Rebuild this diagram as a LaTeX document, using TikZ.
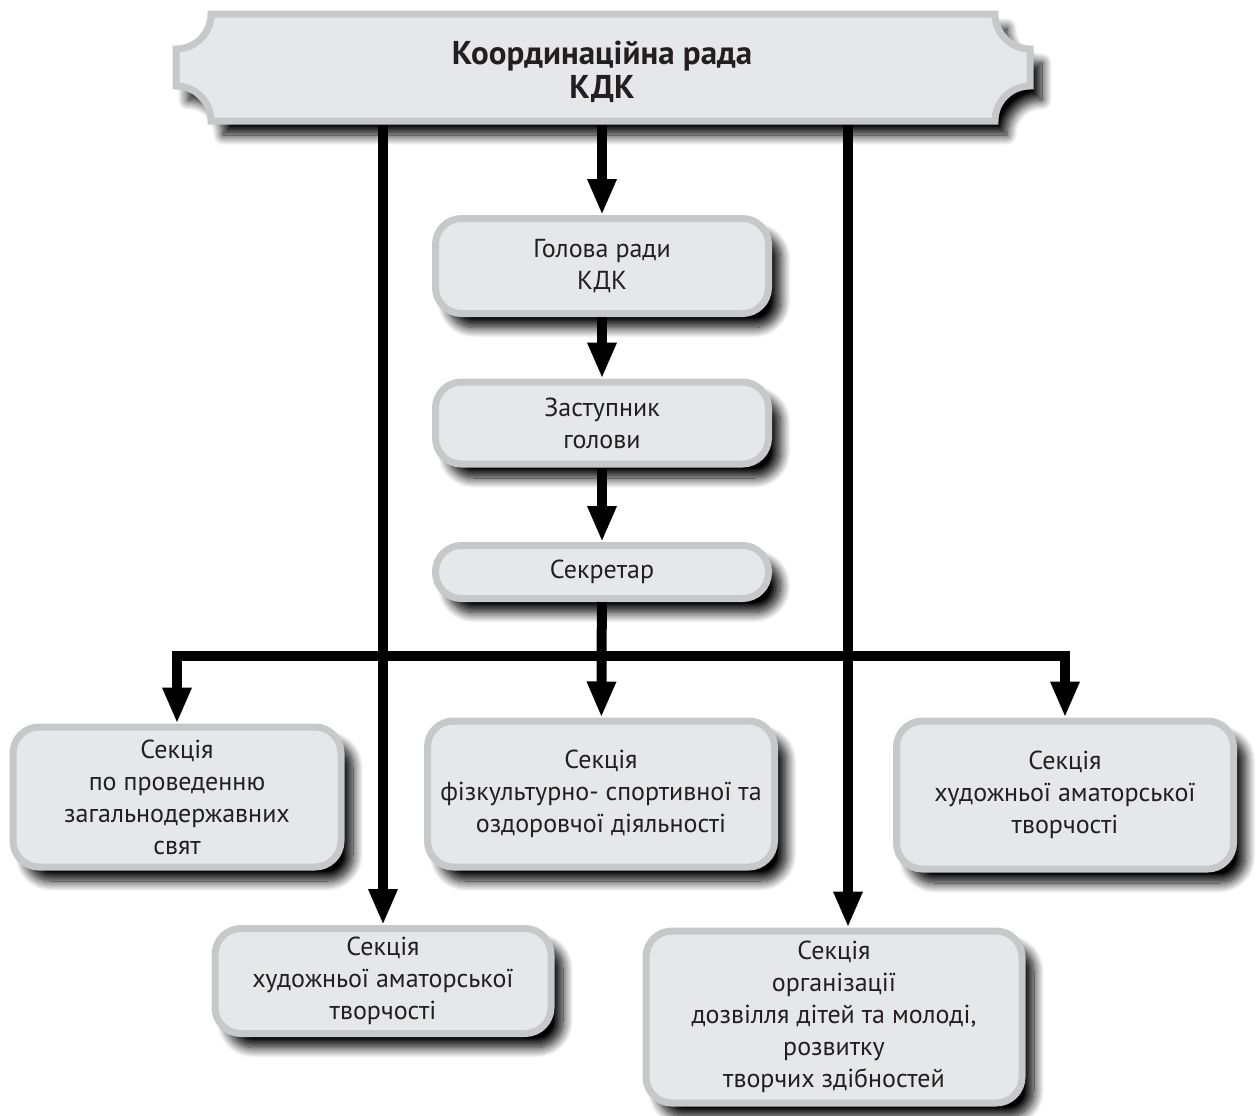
\documentclass[tikz,border=0pt]{standalone}
\usepackage{fontspec}
\setmainfont{PT Sans}
\usetikzlibrary{arrows.meta,shadows.blur}
\definecolor{boxfill}{HTML}{E6E7E8}
\definecolor{boxline}{HTML}{C7C8CA}
\definecolor{ink}{HTML}{231F20}
\tikzset{
  softshadow/.style={blur shadow={shadow xshift=6pt, shadow yshift=-7pt,
      shadow blur radius=5pt, shadow blur steps=14, shadow opacity=100}},
  unit/.style={draw=boxline, fill=boxfill, line width=3.5pt, rounded corners=13pt,
      align=center, text=ink, inner sep=0pt, font=\fontsize{13}{16}\selectfont, softshadow},
  board/.style={draw=boxline, fill=boxfill, line width=3.5pt, softshadow},
  flowtip/.tip={Triangle[width=13.5pt,length=18pt]},
  flow/.style={draw=black, line width=5pt, -flowtip},
}

\begin{document}
\begin{tikzpicture}[x=0.5pt, y=-0.5pt]
  \useasboundingbox (0,0) rectangle (1259,1115);

  % notched board on top
  \path[board] (211,14) -- (995,14) arc[start angle=180, end angle=270, radius=17.5pt]
     -- (1030,86) arc[start angle=90, end angle=180, radius=17.5pt]
     -- (211,121) arc[start angle=0, end angle=90, radius=17.5pt]
     -- (176,49) arc[start angle=270, end angle=360, radius=17.5pt] -- cycle;
  \node[font=\bfseries\fontsize{16.5}{17}\selectfont, text=ink, align=center] (title) at (602,72)
    {Координаційна рада\\КДК};
  \coordinate (boardL) at (383,125);
  \coordinate (boardC) at (602,125);
  \coordinate (boardR) at (848,125);

  % chain in the middle
  \node[unit, minimum width=166.5pt, minimum height=47.5pt] (head) at (602,266) {Голова ради\\КДК};
  \node[unit, minimum width=166.5pt, minimum height=41pt] (deputy) at (602,423) {Заступник\\голови};
  \node[unit, minimum width=166.5pt, minimum height=26.5pt] (secretary) at (602,572) {Секретар};

  % sections
  \node[unit, minimum width=164pt, minimum height=70pt] (holidays) at (177,797)
    {Секція\\по проведенню\\загальнодержавних\\свят};
  \node[unit, minimum width=173.5pt, minimum height=73pt] (sport) at (601,794)
    {Секція\\фізкультурно- спортивної та\\оздоровчої діяльності};
  \node[unit, minimum width=168.5pt, minimum height=74pt] (artR) at (1065,795)
    {Секція\\художньої аматорської\\творчості};
  \node[unit, minimum width=168pt, minimum height=52.5pt] (artL) at (383,981)
    {Секція\\художньої аматорської\\творчості};
  \node[unit, minimum width=188pt, minimum height=86pt] (leisure) at (834,1017)
    {Секція\\організації\\дозвілля дітей та молоді,\\розвитку\\творчих здібностей};

  \coordinate (bus) at (602,656);

  % connectors
  \draw[flow] (boardC) -- (head);
  \draw[flow] (head) -- (deputy);
  \draw[flow] (deputy) -- (secretary);
  \draw[flow] (secretary) -- (sport);
  \draw[flow, flowtip-flowtip, line join=miter] (holidays) -- (holidays |- bus) -- (artR |- bus) -- (artR);
  \draw[flow] (boardL) -- (artL);
  \draw[flow] (boardR) -- (boardR |- leisure.north);
\end{tikzpicture}
\end{document}
